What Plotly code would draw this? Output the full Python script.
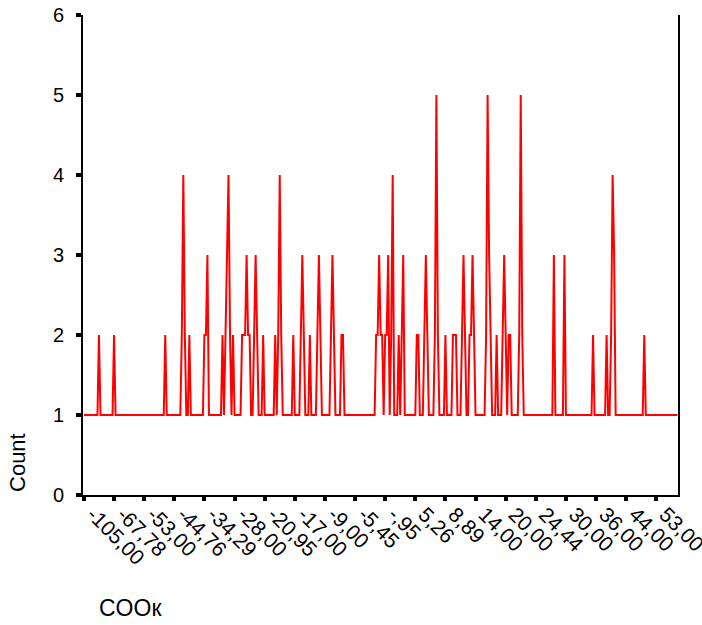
import plotly.graph_objects as go

# Count of cases per distinct COOк value (categories in ascending order)
counts_00_19 = [1,1,1,1,1,1,1,1,1,1,2,1,1,1,1,1,1,1,1,1]
counts_20_39 = [2,1,1,1,1,1,1,1,1,1,1,1,1,1,1,1,1,1,1,1]
counts_40_59 = [1,1,1,1,1,1,1,1,1,1,1,1,1,1,2,1,1,1,1,1]
counts_60_79 = [1,1,1,1,1,2,4,2,1,1,2,1,1,1,1,1,1,1,1,1]
counts_80_99 = [2,2,3,1,1,1,1,1,1,1,1,1,2,1,2,3,4,2,1,2]
counts_100_119 = [1,1,1,1,1,2,2,2,3,2,2,1,1,2,3,2,1,1,1,2]
counts_120_139 = [1,1,1,1,1,1,1,2,1,2,4,2,1,1,1,1,1,1,1,2]
counts_140_159 = [1,1,1,1,2,3,2,1,1,1,2,1,1,1,1,2,3,2,1,1]
counts_160_179 = [1,1,1,1,2,3,2,1,1,1,1,2,2,1,1,1,1,1,1,1]
counts_180_199 = [1,1,1,1,1,1,1,1,1,1,1,1,1,1,2,2,3,2,2,1]
counts_200_219 = [2,2,3,1,2,4,1,1,1,2,1,2,3,1,1,1,1,1,1,1]
counts_220_239 = [1,2,2,1,1,1,2,3,2,1,1,1,1,2,5,2,1,1,1,1]
counts_240_259 = [2,1,1,1,1,2,2,2,1,1,1,2,3,2,1,1,2,2,3,2]
counts_260_279 = [1,1,1,1,1,1,1,2,5,3,2,1,1,1,2,1,1,1,2,3]
counts_280_299 = [2,1,2,2,1,1,1,1,1,2,5,2,1,1,1,1,1,1,1,1]
counts_300_319 = [1,1,1,1,1,1,1,1,1,1,1,1,3,1,1,1,1,1,1,3]
counts_320_339 = [1,1,1,1,1,1,1,1,1,1,1,1,1,1,1,1,1,1,2,1]
counts_340_359 = [1,1,1,1,1,1,1,2,1,1,2,4,3,1,1,1,1,1,1,1]
counts_360_379 = [1,1,1,1,1,1,1,1,1,1,1,1,2,1,1,1,1,1,1,1]
counts_380_394 = [1,1,1,1,1,1,1,1,1,1,1,1,1,1,1]

counts = (counts_00_19 + counts_20_39 + counts_40_59 + counts_60_79 + counts_80_99
          + counts_100_119 + counts_120_139 + counts_140_159 + counts_160_179
          + counts_180_199 + counts_200_219 + counts_220_239 + counts_240_259
          + counts_260_279 + counts_280_299 + counts_300_319 + counts_320_339
          + counts_340_359 + counts_360_379 + counts_380_394)

# Labels shown on every 20th category
tick_labels = ["-105,00", "-67,78", "-53,00", "-44,76", "-34,29", "-28,00",
               "-20,95", "-17,00", "-9,00", "-5,45", "-,95", "5,26", "8,89",
               "14,00", "20,00", "24,44", "30,00", "36,00", "44,00", "53,00"]
label_step = 20

categories = list(range(len(counts)))
tick_vals = [categories[k * label_step] for k in range(len(tick_labels))]

FONT = "Liberation Sans, Arial, sans-serif"
X_RANGE = [-0.6, 394.4]
LABEL_SHIFT = 6.0  # labels sit slightly right of their tick marks

fig = go.Figure(go.Scatter(
    x=categories, y=counts, mode="lines",
    line=dict(color="#ff0000", width=2),
    hoverinfo="skip",
))

fig.update_layout(
    width=702, height=625,
    margin=dict(l=83, r=24, t=15, b=130),
    plot_bgcolor="white", paper_bgcolor="white",
    showlegend=False,
    font=dict(family=FONT, size=19, color="black"),
    xaxis=dict(
        range=X_RANGE, automargin=False,
        showgrid=False, zeroline=False,
        showline=True, linecolor="black", linewidth=2,
        ticks="outside", ticklen=4, tickwidth=4, tickcolor="black",
        tickmode="array", tickvals=tick_vals, showticklabels=False,
    ),
    xaxis2=dict(
        overlaying="x", side="bottom", anchor="y",
        range=[X_RANGE[0] - LABEL_SHIFT, X_RANGE[1] - LABEL_SHIFT],
        automargin=False, showgrid=False, zeroline=False, showline=False,
        ticks="", tickmode="array", tickvals=tick_vals, ticktext=tick_labels,
        tickangle=45, ticklabelstandoff=2, ticklabeloverflow="allow",
        tickfont=dict(family=FONT, size=21, color="black"),
    ),
    yaxis=dict(
        range=[0, 6], automargin=False,
        tickmode="array", tickvals=[0, 1, 2, 3, 4, 5, 6],
        showgrid=False, zeroline=False,
        showline=True, linecolor="black", linewidth=2, mirror=True,
        ticks="outside", ticklen=5, tickwidth=4, tickcolor="black",
        ticklabelstandoff=8,
        tickfont=dict(family=FONT, size=20, color="black"),
    ),
)

# invisible trace so the label axis is drawn
fig.add_trace(go.Scatter(x=[None], y=[None], xaxis="x2", yaxis="y",
                         showlegend=False, hoverinfo="skip"))

fig.add_annotation(
    text="Count", textangle=-90, showarrow=False,
    xref="paper", yref="paper", x=-0.109, y=0.067,
    xanchor="center", yanchor="middle",
    font=dict(family=FONT, size=22, color="black"),
)
fig.add_annotation(
    text="COOк", showarrow=False,
    xref="paper", yref="paper", x=0.0235, y=-0.235,
    xanchor="left", yanchor="middle",
    font=dict(family=FONT, size=23, color="black"),
)

fig.write_html("out.html", config={"displayModeBar": False},
               post_script="document.body.style.margin='0px';")
